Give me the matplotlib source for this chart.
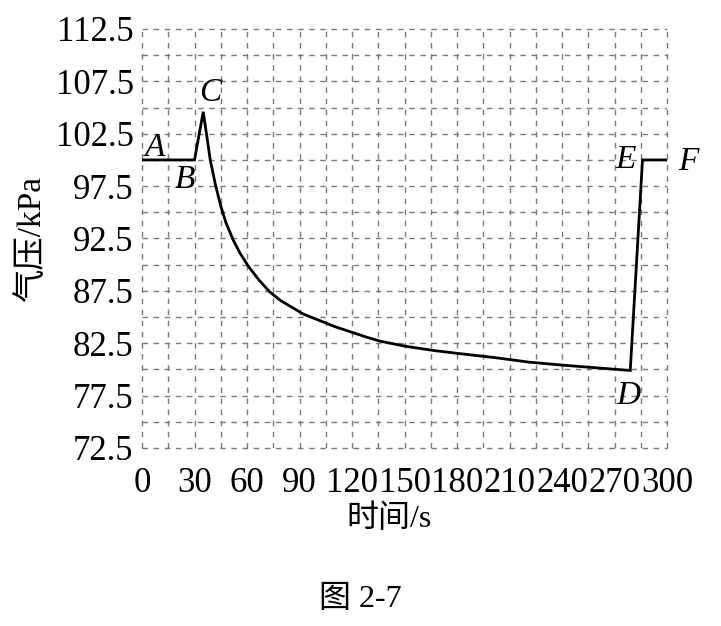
import numpy as np
import matplotlib
matplotlib.use("Agg")
import matplotlib.pyplot as plt

# pressure curve
t = [0, 30, 35, 39, 42, 45, 48, 52, 56, 61, 67, 73, 79, 85, 92, 101, 110, 119, 128,
     136, 151, 167, 182, 203, 221, 241, 260, 279, 286, 300]
p = [100.0, 100.0, 104.6, 100.0, 97.6, 95.6, 94.0, 92.4, 91.1, 89.8, 88.5, 87.4,
     86.6, 86.0, 85.3, 84.7, 84.1, 83.6, 83.1, 82.7, 82.2, 81.8, 81.5, 81.1, 80.7,
     80.4, 80.15, 79.9, 100.0, 100.0]

point_names = ["A", "B", "C", "D", "E", "F"]
point_pos = [(7.4, 101.2), (24.6, 98.1), (38.9, 106.4), (277.7, 77.5), (276.6, 100.0), (312.0, 99.8)]

xticks = np.arange(0, 301, 30)
yticks = np.arange(72.5, 112.6, 5)

serif = ["Liberation Serif", "Noto Sans CJK SC"]

fig = plt.figure(figsize=(7.21, 6.26), dpi=100)
ax = fig.add_axes([142/721, 1-448/626, 525/721, 419/626])

ax.plot(t, p, color="black", lw=2.0, solid_joinstyle="miter", zorder=3)

for name, (x, y) in zip(point_names, point_pos):
    ax.text(x, y, name, fontsize=24, style="italic", family="Liberation Serif",
            ha="center", va="center", clip_on=False, zorder=4)

ax.set_xlim(0, 300)
ax.set_ylim(72.5, 112.5)
ax.set_xticks(xticks)
ax.set_xticklabels([str(v) for v in xticks])
ax.set_yticks(yticks)
ax.set_yticklabels(["%.1f" % v for v in yticks])
ax.set_xticks(np.arange(0, 301, 15), minor=True)
ax.set_yticks(np.arange(72.5, 112.6, 2.5), minor=True)
ax.tick_params(which="both", length=0)
ax.tick_params(axis="x", pad=14)
ax.tick_params(axis="y", pad=6)
for lab in ax.get_xticklabels() + ax.get_yticklabels():
    lab.set_family("Liberation Serif")
    lab.set_fontsize(25)

ax.grid(which="both", color="#7a7a7a", linestyle=(0, (4, 4)), lw=1.0)
for gl in ax.get_xgridlines() + ax.get_ygridlines():
    gl.set_clip_on(False)
for s in ax.spines.values():
    s.set_visible(False)

ax.set_xlabel("时间/s", family=serif, fontsize=23, labelpad=2)
ax.xaxis.set_label_coords(0.47, -0.135)
ax.set_ylabel("气压/kPa", family=serif, fontsize=24, labelpad=6)

fig.text(360/721, 1-600/626, "图 2-7", family=serif, fontsize=23, ha="center", va="center")

fig.savefig("out.png", dpi=100)
